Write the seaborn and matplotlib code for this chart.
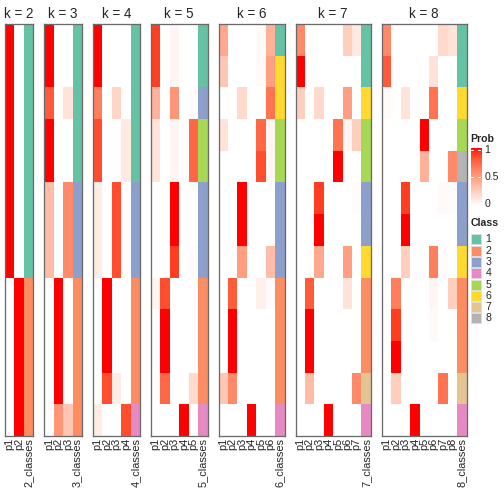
import numpy as np
import pandas as pd
import matplotlib
matplotlib.use("Agg")
import matplotlib.pyplot as plt
from matplotlib.colors import ListedColormap
from matplotlib.patches import Rectangle
import seaborn as sns

sns.set_theme(style="white")
plt.rcParams['font.family'] = ['Liberation Sans', 'DejaVu Sans']

# ---------------- data ----------------
prob_k2 = [[1, 0]] * 8 + [[0, 1]] * 5
class_k2 = [1, 1, 1, 1, 1, 1, 1, 1, 2, 2, 2, 2, 2]

prob_k3 = [
    [1, 0, 0], [1, 0, 0], [0.8, 0, 0.15], [1, 0, 0], [1, 0, 0],
    [0.35, 0, 0.6], [0.35, 0, 0.6], [0.35, 0, 0.6],
    [0, 1, 0], [0, 1, 0], [0, 1, 0], [0, 1, 0], [0, 0.55, 0.3],
]
class_k3 = [1, 1, 1, 1, 1, 3, 3, 3, 2, 2, 2, 2, 2]

prob_k4 = [
    [1, 0, 0, 0], [1, 0, 0, 0], [0.65, 0, 0.22, 0], [0.85, 0, 0, 0.12], [0.85, 0, 0, 0.12],
    [0.1, 0, 0.85, 0], [0.1, 0, 0.85, 0], [0.1, 0, 0.85, 0],
    [0, 1, 0, 0], [0, 1, 0, 0], [0, 1, 0, 0], [0, 0.85, 0.1, 0], [0.1, 0, 0, 0.85],
]
class_k4 = [1, 1, 1, 1, 1, 3, 3, 3, 2, 2, 2, 2, 4]

prob_k5 = [
    [0.9, 0, 0.05, 0, 0], [0.9, 0, 0.05, 0, 0], [0.4, 0, 0.55, 0, 0.02],
    [0.15, 0, 0.05, 0, 0.75], [0.15, 0, 0.05, 0, 0.75],
    [0, 0, 1, 0, 0], [0, 0, 1, 0, 0], [0, 0, 0.9, 0, 0.02],
    [0.05, 0.85, 0, 0, 0], [0, 1, 0, 0, 0], [0, 1, 0, 0, 0], [0, 0.75, 0, 0, 0.2],
    [0, 0, 0, 1, 0],
]
class_k5 = [1, 1, 3, 5, 5, 3, 3, 3, 2, 2, 2, 2, 4]

prob_k6 = [
    [0.45, 0, 0, 0, 0.03, 0.4], [0.3, 0, 0, 0, 0.03, 0.5], [0, 0, 0.2, 0, 0, 0.7],
    [0.15, 0, 0, 0, 0.75, 0.05], [0, 0, 0, 0, 0.85, 0.05],
    [0, 0, 1, 0, 0, 0], [0, 0, 1, 0, 0, 0], [0, 0, 0.5, 0, 0, 0.35],
    [0, 0.8, 0, 0, 0.08, 0.02], [0, 1, 0, 0, 0, 0], [0, 1, 0, 0, 0, 0],
    [0.3, 0.6, 0, 0, 0, 0], [0, 0, 0, 1, 0, 0],
]
class_k6 = [1, 6, 6, 5, 5, 3, 3, 3, 2, 2, 2, 2, 4]

prob_k7 = [
    [0.6, 0, 0, 0, 0, 0.25, 0.12], [1, 0, 0, 0, 0, 0, 0], [0.25, 0, 0.2, 0, 0, 0.5, 0],
    [0, 0, 0, 0, 0.7, 0.05, 0.25], [0, 0, 0, 0, 1, 0, 0],
    [0, 0, 0.9, 0, 0, 0, 0.02], [0, 0, 1, 0, 0, 0, 0], [0, 0, 0.45, 0, 0, 0.5, 0],
    [0, 0.8, 0, 0, 0, 0.15, 0], [0, 1, 0, 0, 0, 0, 0], [0, 1, 0, 0, 0, 0, 0],
    [0, 0.35, 0, 0, 0, 0, 0.6], [0, 0, 0, 1, 0, 0, 0],
]
class_k7 = [1, 1, 6, 5, 5, 3, 3, 6, 2, 2, 2, 7, 4]

prob_k8 = [
    [0.6, 0, 0, 0, 0, 0, 0.2, 0.15], [0.8, 0, 0, 0, 0, 0.15, 0, 0],
    [0.03, 0, 0.15, 0, 0, 0.7, 0, 0], [0, 0, 0, 0, 1, 0, 0, 0],
    [0, 0, 0, 0, 0.4, 0, 0, 0.6], [0, 0, 0.9, 0, 0, 0, 0.03, 0.02],
    [0, 0, 1, 0, 0, 0, 0, 0], [0, 0, 0.25, 0, 0, 0.65, 0.02, 0],
    [0, 0.65, 0, 0, 0, 0.05, 0, 0.25], [0, 0.9, 0, 0, 0, 0.03, 0, 0],
    [0, 1, 0, 0, 0, 0, 0, 0], [0, 0.25, 0, 0, 0, 0, 0.7, 0],
    [0, 0, 0, 1, 0, 0, 0, 0],
]
class_k8 = [1, 1, 6, 5, 8, 3, 3, 6, 2, 2, 2, 7, 4]

ks = [2, 3, 4, 5, 6, 7, 8]
probs = [prob_k2, prob_k3, prob_k4, prob_k5, prob_k6, prob_k7, prob_k8]
classes = [class_k2, class_k3, class_k4, class_k5, class_k6, class_k7, class_k8]
class_labels = ["1", "2", "3", "4", "5", "6", "7", "8"]
prob_ticks = [0, 0.5, 1]

# ---------------- styles ----------------
class_colors = ["#66C2A5", "#FC8D62", "#8DA0CB", "#E78AC3",
                "#A6D854", "#FFD92F", "#E5C494", "#B3B3B3"]
class_cmap = ListedColormap(class_colors)


def lab_to_rgb(L, a, b):
    fy = (L + 16) / 116
    fx = fy + a / 500
    fz = fy - b / 200

    def finv(t):
        return t ** 3 if t ** 3 > 0.008856 else (t - 16 / 116) / 7.787
    X = 0.95047 * finv(fx)
    Y = 1.0 * finv(fy)
    Z = 1.08883 * finv(fz)
    r = 3.2406 * X - 1.5372 * Y - 0.4986 * Z
    g = -0.9689 * X + 1.8758 * Y + 0.0415 * Z
    bb = 0.0557 * X - 0.2040 * Y + 1.0570 * Z
    out = []
    for c in (r, g, bb):
        c = 1.055 * c ** (1 / 2.4) - 0.055 if c > 0.0031308 else 12.92 * c
        out.append(min(max(c, 0), 1))
    return out


white_lab = np.array([100.0, 0.0, 0.0])
red_lab = np.array([53.24, 80.09, 67.20])
lab_cols = [lab_to_rgb(*(white_lab + t * (red_lab - white_lab))) for t in np.linspace(0, 1, 256)]
prob_cmap = ListedColormap(lab_cols)

W = H = 504
fig = plt.figure(figsize=(7, 7), dpi=72)

col_w = 9.42
gap = 11.0
x_start = 5.0
top_px, bot_px = 24.0, 436.0
border_col = "#6a6a6a"

x = x_start
for k, pr, cl in zip(ks, probs, classes):
    ncol = k + 1
    w = ncol * col_w
    ax = fig.add_axes([x / W, 1 - bot_px / H, w / W, (bot_px - top_px) / H])
    cols = [f"p{j}" for j in range(1, k + 1)]
    df = pd.DataFrame(pr, columns=cols)
    df[f"{k}_classes"] = cl
    mask_prob = np.zeros(df.shape, dtype=bool)
    mask_prob[:, -1] = True
    sns.heatmap(df, mask=mask_prob, cmap=prob_cmap, vmin=0, vmax=1, cbar=False,
                ax=ax, xticklabels=True, yticklabels=False)
    sns.heatmap(df, mask=~mask_prob, cmap=class_cmap, vmin=0.5, vmax=8.5, cbar=False,
                ax=ax, xticklabels=True, yticklabels=False)
    ax.set_xticklabels(df.columns, rotation=90, fontsize=11)
    ax.tick_params(axis="x", length=0, pad=2)
    ax.set_ylabel("")
    for s in ax.spines.values():
        s.set_visible(True)
        s.set_color(border_col)
        s.set_linewidth(1.3)
    ax.set_title(f"k = {k}", fontsize=13.5, pad=6)
    x += w + gap

# ---------------- legends ----------------
lx = 470.7
# Prob colorbar
fig.text(lx / W, 1 - 139 / H, "Prob", fontsize=10.5, fontweight="bold", va="center", ha="left")
cb_top, cb_bot = 148.0, 206.0
cax = fig.add_axes([lx / W, 1 - cb_bot / H, 10 / W, (cb_bot - cb_top) / H])
grad = np.linspace(0, 1, 200).reshape(-1, 1)
cax.imshow(grad, cmap=prob_cmap, aspect="auto", origin="lower", extent=[0, 1, 0, 1], vmin=0, vmax=1)
cax.set_xlim(0, 1)
cax.set_ylim(0, 1)
cax.set_xticks([])
cax.set_yticks([])
for s in cax.spines.values():
    s.set_visible(False)
for t in prob_ticks:
    yy = 0.04 + 0.92 * t
    cax.plot([0, 0.25], [yy, yy], color="white", lw=1)
    cax.plot([0.75, 1], [yy, yy], color="white", lw=1)
    fig.text((lx + 14) / W, 1 - (cb_bot - 2.3 - (cb_bot - cb_top - 4.6) * t) / H,
             f"{t:g}", fontsize=10.5, va="center", ha="left")

# Class legend
fig.text(lx / W, 1 - 223 / H, "Class", fontsize=10.5, fontweight="bold", va="center", ha="left")
lax = fig.add_axes([0, 0, 1, 1], facecolor="none")
lax.set_xlim(0, W)
lax.set_ylim(H, 0)
lax.axis("off")
for i, (lab, c) in enumerate(zip(class_labels, class_colors)):
    yc = 239.3 + i * 11.3
    lax.add_patch(Rectangle((lx, yc - 5), 10, 10, facecolor=c, edgecolor="#dddddd", lw=0.8))
    lax.text(lx + 15, yc, lab, fontsize=10.5, va="center", ha="left")

fig.savefig("out.png", dpi=72)
